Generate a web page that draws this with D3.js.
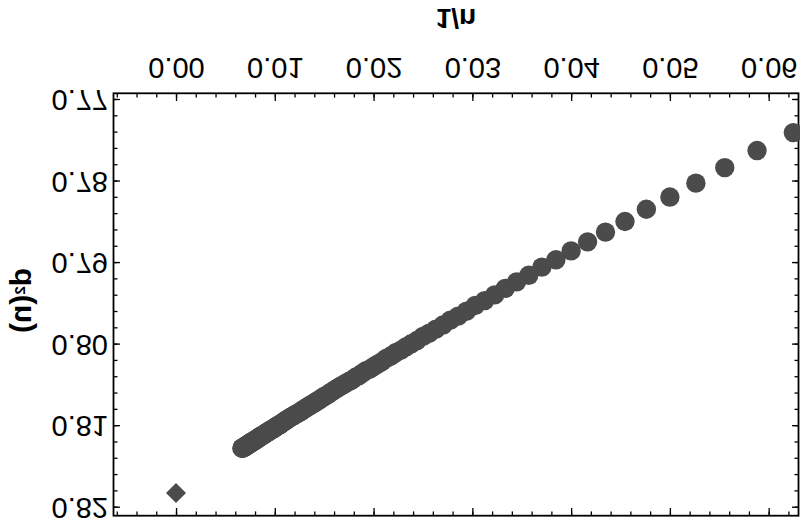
<!DOCTYPE html>
<html>
<head>
<meta charset="utf-8">
<script src="https://cdn.jsdelivr.net/npm/d3@7"></script>
<style>
  html, body { margin: 0; padding: 0; background: #fff; }
  svg { display: block; }
  text { font-family: "Liberation Sans", Arial, sans-serif; fill: #000; }
</style>
</head>
<body>
<svg id="chart" width="800" height="528"></svg>
<script>
// ---- data ----
const nValues = [16,17,18,19,20,21,22,23,24,25,26,27,28,29,30,31,32,33,34,35,36,37,38,39,40,
  41,42,43,44,45,46,47,48,49,50,51,52,53,54,55,56,57,58,59,60,61,62,63,64,65,66,67,68,69,70,
  71,72,73,74,75,76,77,78,79,80,81,82,83,84,85,86,87,88,89,90,91,92,93,94,95,96,97,98,99,100,
  101,102,103,104,105,106,107,108,109,110,111,112,113,114,115,116,117,118,119,120,121,122,123,124,125,
  126,127,128,129,130,131,132,133,134,135,136,137,138,139,140,141,142,143,144,145,146,147,148,149,150];
const d2Values = [0.7740,0.7762,0.7783,0.7802,0.7819,0.7834,0.7849,0.7862,0.7874,0.7885,
  0.7896,0.7905,0.7915,0.7923,0.7931,0.7939,0.7946,0.7952,0.7959,0.7965,0.7970,0.7976,0.7981,0.7986,0.7990,
  0.7995,0.7999,0.8003,0.8007,0.8010,0.8014,0.8017,0.8021,0.8024,0.8027,0.8030,0.8032,0.8035,0.8038,0.8040,
  0.8043,0.8045,0.8047,0.8049,0.8051,0.8053,0.8055,0.8057,0.8059,0.8061,0.8063,0.8064,0.8066,0.8068,0.8069,
  0.8071,0.8072,0.8074,0.8075,0.8076,0.8078,0.8079,0.8080,0.8082,0.8083,0.8084,0.8085,0.8086,0.8087,0.8088,
  0.8089,0.8090,0.8091,0.8092,0.8093,0.8094,0.8095,0.8096,0.8097,0.8098,0.8099,0.8099,0.8100,0.8101,0.8102,
  0.8103,0.8103,0.8104,0.8105,0.8105,0.8106,0.8107,0.8107,0.8108,0.8109,0.8109,0.8110,0.8111,0.8111,0.8112,
  0.8112,0.8113,0.8113,0.8114,0.8115,0.8115,0.8116,0.8116,0.8117,0.8117,0.8118,0.8118,0.8119,0.8119,0.8119,
  0.8120,0.8120,0.8121,0.8121,0.8122,0.8122,0.8123,0.8123,0.8123,0.8124,0.8124,0.8125,0.8125,0.8125,0.8126,
  0.8126,0.8126,0.8127,0.8127,0.8127];
const extrapX = [0.0];
const extrapY = [0.8182];
const xTicks = [0.00,0.01,0.02,0.03,0.04,0.05,0.06];
const xTickLabels = ["0.00","0.01","0.02","0.03","0.04","0.05","0.06"];
const yTicks = [0.77,0.78,0.79,0.80,0.81,0.82];
const yTickLabels = ["0.77","0.78","0.79","0.80","0.81","0.82"];
const xLabel = "1/n";

// ---- layout ----
const W = 800, H = 528;
const frame = {left: 113.5, right: 798.5, top: 12.3, bottom: 434.7};
const x = d3.scaleLinear().domain([-0.00633, 0.06302]).range([frame.left, frame.right]);
const y = d3.scaleLinear().domain([0.76918, 0.82098]).range([frame.bottom, frame.top]);

const svg = d3.select("#chart");
// the reference picture is mirrored top-to-bottom
const g = svg.append("g").attr("transform", `translate(0,${H}) scale(1,-1)`);

const xMinor = d3.range(-6, 63, 2).map(v => v / 1000);
const yMinor = d3.range(770, 821, 2).map(v => v / 1000);

function styleAxis(sel) {
  sel.select(".domain").remove();
  sel.selectAll(".tick line").attr("stroke", "#000").attr("stroke-width", 1.3);
}

// bottom
g.append("g").attr("transform", `translate(0,${frame.bottom})`)
  .call(d3.axisBottom(x).tickValues(xMinor).tickSize(-4.3).tickFormat(""))
  .call(styleAxis);
g.append("g").attr("transform", `translate(0,${frame.bottom})`)
  .call(d3.axisBottom(x).tickValues(xTicks).tickSize(-7.7).tickPadding(15)
    .tickFormat((d, i) => xTickLabels[i]))
  .call(styleAxis)
  .call(s => s.selectAll("text").style("font-size", "29px").attr("font-family", null));
// top
g.append("g").attr("transform", `translate(0,${frame.top})`)
  .call(d3.axisTop(x).tickValues(xMinor).tickSize(-4.3).tickFormat(""))
  .call(styleAxis);
g.append("g").attr("transform", `translate(0,${frame.top})`)
  .call(d3.axisTop(x).tickValues(xTicks).tickSize(-7.7).tickFormat(""))
  .call(styleAxis);
// left
g.append("g").attr("transform", `translate(${frame.left},0)`)
  .call(d3.axisLeft(y).tickValues(yMinor).tickSize(-4).tickFormat(""))
  .call(styleAxis);
g.append("g").attr("transform", `translate(${frame.left},0)`)
  .call(d3.axisLeft(y).tickValues(yTicks).tickSize(-6.5).tickPadding(5.5)
    .tickFormat((d, i) => yTickLabels[i]))
  .call(styleAxis)
  .call(s => s.selectAll("text").style("font-size", "29px").attr("font-family", null));
// right
g.append("g").attr("transform", `translate(${frame.right},0)`)
  .call(d3.axisRight(y).tickValues(yMinor).tickSize(-4).tickFormat(""))
  .call(styleAxis);
g.append("g").attr("transform", `translate(${frame.right},0)`)
  .call(d3.axisRight(y).tickValues(yTicks).tickSize(-6.5).tickFormat(""))
  .call(styleAxis);

// frame
g.append("rect")
  .attr("x", frame.left).attr("y", frame.top)
  .attr("width", frame.right - frame.left).attr("height", frame.bottom - frame.top)
  .attr("fill", "none").attr("stroke", "#000").attr("stroke-width", 1.8);

// data points
const pts = nValues.map((n, i) => ({t: 1 / n, v: d2Values[i]}));
g.append("g").selectAll("circle").data(pts).join("circle")
  .attr("cx", d => x(d.t)).attr("cy", d => y(d.v)).attr("r", 9.7)
  .attr("fill", "#4b4b4b");

// extrapolated value (diamond)
g.append("g").selectAll("path").data(extrapX.map((t, i) => ({t, v: extrapY[i]}))).join("path")
  .attr("d", d3.symbol(d3.symbolSquare, 200)())
  .attr("transform", d => `translate(${x(d.t)},${y(d.v)}) rotate(45)`)
  .attr("fill", "#4b4b4b");

// axis labels
g.append("text")
  .attr("x", (frame.left + frame.right) / 2).attr("y", 519)
  .attr("text-anchor", "middle")
  .style("font-size", "28px").style("font-weight", "bold")
  .text(xLabel);

const yl = g.append("text")
  .attr("transform", `translate(31,${(frame.top + frame.bottom) / 2 + 4}) rotate(-90)`)
  .attr("text-anchor", "middle")
  .style("font-size", "30px").style("font-weight", "bold");
yl.append("tspan").text("d");
yl.append("tspan").attr("dy", -6).style("font-size", "15px").text("2");
yl.append("tspan").attr("dy", 6).text("(n)");
</script>
</body>
</html>
